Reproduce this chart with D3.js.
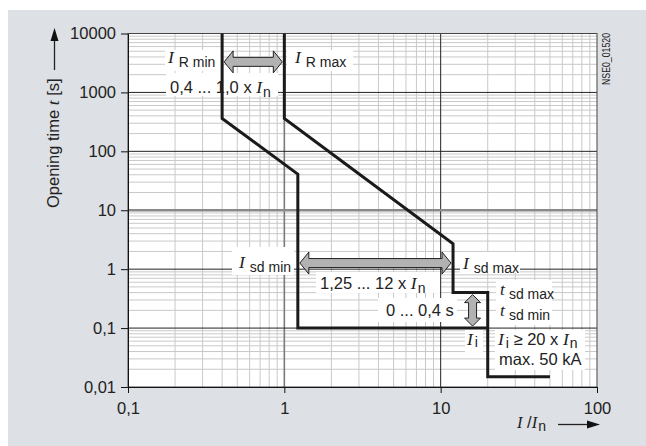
<!DOCTYPE html>
<html>
<head>
<meta charset="utf-8">
<script src="https://cdn.jsdelivr.net/npm/d3@7"></script>
<style>
  body { margin: 0; background: #fff; }
  text { font-family: "Liberation Sans", Arial, sans-serif; fill: #222; }
  .it { font-family: "Liberation Serif", "Times New Roman", serif; font-style: italic; }
</style>
</head>
<body>
<svg id="chart" width="646" height="446"></svg>
<script>
// Data
var xTicks = [0.1, 1, 10, 100];
var xTickLabels = ["0,1", "1", "10", "100"];
var yTicks = [0.01, 0.1, 1, 10, 100, 1000, 10000];
var yTickLabels = ["0,01", "0,1", "1", "10", "100", "1000", "10000"];

// I/In vs t[s]
var curveRmin = [[0.4, 10000], [0.4, 360], [1.22, 41], [1.22, 0.1], [20, 0.1]];
var curveRmax = [[1, 10000], [1, 360], [12, 2.7], [12, 0.4], [20, 0.4], [20, 0.015], [50, 0.015]];

// setting ranges shown by the double arrows
var arrowIR = [0.4, 1];      // x range, at t = 3300 s
var arrowIsd = [1.22, 12];   // x range, at t = 1.27 s
var arrowTsd = [0.4, 0.1];   // t range, at I/In = 16

const svg = d3.select("#chart");

// grey panel
svg.append("rect").attr("x", 8).attr("y", 10).attr("width", 638).attr("height", 436).attr("fill", "#dde0e4");

const xScale = d3.scaleLog().domain([0.1, 100]).range([128, 597]);
const yScale = d3.scaleLog().domain([0.01, 10000]).range([387, 33.5]);

// plot background
svg.append("rect")
  .attr("x", xScale(0.1)).attr("y", yScale(10000))
  .attr("width", xScale(100) - xScale(0.1)).attr("height", yScale(0.01) - yScale(10000))
  .attr("fill", "#fff");

// minor grid
var minorX = [], minorY = [];
xTicks.slice(0, -1).forEach(d => { for (let k = 2; k <= 9; k++) minorX.push(d * k); });
yTicks.slice(0, -1).forEach(d => { for (let k = 2; k <= 9; k++) minorY.push(d * k); });

const grid = svg.append("g");
grid.selectAll(".gx").data(minorX).enter().append("line")
  .attr("x1", d => xScale(d)).attr("x2", d => xScale(d))
  .attr("y1", yScale(0.01)).attr("y2", yScale(10000))
  .attr("stroke", "#c9c9c9").attr("stroke-width", 1);
grid.selectAll(".gy").data(minorY).enter().append("line")
  .attr("y1", d => yScale(d)).attr("y2", d => yScale(d))
  .attr("x1", xScale(0.1)).attr("x2", xScale(100))
  .attr("stroke", "#c9c9c9").attr("stroke-width", 1);

// major grid
grid.selectAll(".mx").data(xTicks.slice(1, -1)).enter().append("line")
  .attr("x1", d => xScale(d)).attr("x2", d => xScale(d))
  .attr("y1", yScale(0.01)).attr("y2", yScale(10000))
  .attr("stroke", d => d == 1 ? "#7a7a7a" : "#222")
  .attr("stroke-width", d => d == 1 ? 1.6 : 1);
grid.selectAll(".my").data(yTicks.slice(1, -1)).enter().append("line")
  .attr("y1", d => yScale(d)).attr("y2", d => yScale(d))
  .attr("x1", xScale(0.1)).attr("x2", xScale(100))
  .attr("stroke", d => d == 10 ? "#8a8a8a" : "#222")
  .attr("stroke-width", d => d == 10 ? 2.4 : 1);

// frame
svg.append("rect")
  .attr("x", xScale(0.1)).attr("y", yScale(10000))
  .attr("width", xScale(100) - xScale(0.1)).attr("height", yScale(0.01) - yScale(10000))
  .attr("fill", "none").attr("stroke", "#444").attr("stroke-width", 1);

// axes
svg.append("g")
  .attr("transform", `translate(0,${yScale(0.01)})`)
  .call(d3.axisBottom(xScale).tickValues(xTicks).tickFormat((d, i) => xTickLabels[i]).tickSize(6).tickSizeOuter(0).tickPadding(9))
  .call(g => g.select(".domain").attr("stroke", "#111"))
  .call(g => g.selectAll("line").attr("stroke", "#111"))
  .call(g => g.selectAll("text").attr("font-size", 16.5).attr("font-family", "Liberation Sans, Arial, sans-serif").attr("fill", "#222"));

svg.append("g")
  .attr("transform", `translate(${xScale(0.1)},0)`)
  .call(d3.axisLeft(yScale).tickValues(yTicks).tickFormat((d, i) => yTickLabels[i]).tickSize(7).tickSizeOuter(0).tickPadding(5))
  .call(g => g.select(".domain").attr("stroke", "#111"))
  .call(g => g.selectAll("line").attr("stroke", "#111"))
  .call(g => g.selectAll("text").attr("font-size", 16.5).attr("font-family", "Liberation Sans, Arial, sans-serif").attr("fill", "#222"));

// white label boxes (drawn under the curves)
var boxes = [
  [165, 50, 56, 21], [287, 50, 66, 21], [166, 73, 112, 23],
  [232, 247, 62, 28], [316, 272, 124, 21], [460, 252, 60, 21],
  [496, 280, 56, 45], [378, 298, 79, 24], [465, 330, 18, 22], [495, 330, 90, 40]
];
svg.selectAll(".box").data(boxes).enter().append("rect")
  .attr("x", d => d[0]).attr("y", d => d[1]).attr("width", d => d[2]).attr("height", d => d[3])
  .attr("fill", "#fff");

// curves
const line = d3.line().x(d => xScale(d[0])).y(d => yScale(d[1]));
[curveRmin, curveRmax].forEach(c => {
  svg.append("path")
    .attr("d", line(c))
    .attr("fill", "none")
    .attr("stroke", "#1a1a1a")
    .attr("stroke-width", 3)
    .attr("stroke-linejoin", "miter");
});

// double arrows
function hArrow(x1, x2, cy) {
  const s = 4.5, h = 11, L = 9;
  return `M${x1},${cy} L${x1 + L},${cy - h} L${x1 + L},${cy - s} L${x2 - L},${cy - s} L${x2 - L},${cy - h} L${x2},${cy} ` +
    `L${x2 - L},${cy + h} L${x2 - L},${cy + s} L${x1 + L},${cy + s} L${x1 + L},${cy + h} Z`;
}
function vArrow(y1, y2, cx) {
  const s = 4, h = 8, L = 8;
  return `M${cx},${y1} L${cx + h},${y1 + L} L${cx + s},${y1 + L} L${cx + s},${y2 - L} L${cx + h},${y2 - L} L${cx},${y2} ` +
    `L${cx - h},${y2 - L} L${cx - s},${y2 - L} L${cx - s},${y1 + L} L${cx - h},${y1 + L} Z`;
}
svg.append("path").attr("d", hArrow(xScale(arrowIR[0]) + 2, xScale(arrowIR[1]) - 2, yScale(3300)))
  .attr("fill", "#b2b2b2").attr("stroke", "#222").attr("stroke-width", 1);
svg.append("path").attr("d", hArrow(xScale(arrowIsd[0]) + 2, xScale(arrowIsd[1]) - 2, yScale(1.27)))
  .attr("fill", "#b2b2b2").attr("stroke", "#222").attr("stroke-width", 1);
svg.append("path").attr("d", vArrow(yScale(arrowTsd[0]) + 2, yScale(arrowTsd[1]) - 2, xScale(16)))
  .attr("fill", "#b2b2b2").attr("stroke", "#222").attr("stroke-width", 1);

// labels: parts = [text, kind, dx]; kind: "i" italic symbol, "s" subscript, "n" normal
function label(x, y, parts, drop) {
  drop = drop || 4;
  const t = svg.append("text").attr("x", x).attr("y", y).attr("font-size", 16.5);
  let shifted = false;
  parts.forEach(p => {
    const sp = t.append("tspan").text(p[0]);
    if (p[2]) sp.attr("dx", p[2]);
    if (p[1] == "i") {
      sp.attr("class", "it").attr("font-size", 17.5);
      if (shifted) { sp.attr("dy", -drop); shifted = false; }
    } else if (p[1] == "s") {
      sp.attr("font-size", 14);
      if (!shifted) { sp.attr("dy", drop); shifted = true; }
    } else {
      if (shifted) { sp.attr("dy", -drop); shifted = false; }
    }
  });
  return t;
}

label(168, 63, [["I", "i"], ["R min", "s", 5]]);
label(295, 63, [["I", "i"], ["R max", "s", 5]]);
label(170, 93, [["0,4 ... 1,0 x ", "n"], ["I", "i"], ["n", "s", 1]]);
label(239, 268, [["I", "i"], ["sd min", "s", 5]]);
label(320, 288.5, [["1,25 ... 12 x ", "n"], ["I", "i"], ["n", "s", 1]]);
label(463, 268.5, [["I", "i"], ["sd max", "s", 5]]);
label(500, 295, [["t", "i"], ["sd max", "s", 4]]);
label(500, 316, [["t", "i"], ["sd min", "s", 4]]);
label(386, 316, [["0 ... 0,4 s", "n"]]);
label(467, 344.5, [["I", "i"], ["i", "s", 2]], 2.5);
label(498, 345, [["I", "i"], ["i", "s", 2], [" \u2265 20 x ", "n"], ["I", "i"], ["n", "s", 1]], 2.5);
label(499, 365, [["max. 50 kA", "n"]]);

// y axis title with arrow
const yt = svg.append("text")
  .attr("transform", "translate(59,208) rotate(-90)")
  .attr("font-size", 16.5);
yt.append("tspan").text("Opening time ");
yt.append("tspan").attr("class", "it").attr("font-size", 17.5).text("t");
yt.append("tspan").text(" [s]");
svg.append("line").attr("x1", 54.5).attr("x2", 54.5).attr("y1", 70).attr("y2", 38)
  .attr("stroke", "#222").attr("stroke-width", 1.3);
svg.append("path").attr("d", "M54.5,28 L58.5,41 L50.5,41 Z").attr("fill", "#111");

// x axis title with arrow
const xt = svg.append("text").attr("x", 517).attr("y", 428).attr("font-size", 16.5);
xt.append("tspan").attr("class", "it").attr("font-size", 16.5).text("I");
xt.append("tspan").text(" /");
xt.append("tspan").attr("class", "it").attr("font-size", 16.5).text("I");
xt.append("tspan").attr("font-size", 14).attr("dy", 3).attr("dx", 1).text("n");
svg.append("line").attr("x1", 558).attr("x2", 590).attr("y1", 424.5).attr("y2", 424.5)
  .attr("stroke", "#222").attr("stroke-width", 1.3);
svg.append("path").attr("d", "M600,424.5 L587,420.5 L587,428.5 Z").attr("fill", "#111");

// drawing number
svg.append("text")
  .attr("transform", "translate(609.5,85) rotate(-90)")
  .attr("font-size", 10.5)
  .attr("textLength", 52)
  .attr("lengthAdjust", "spacingAndGlyphs")
  .attr("fill", "#333")
  .text("NSE0_01520");
</script>
</body>
</html>
